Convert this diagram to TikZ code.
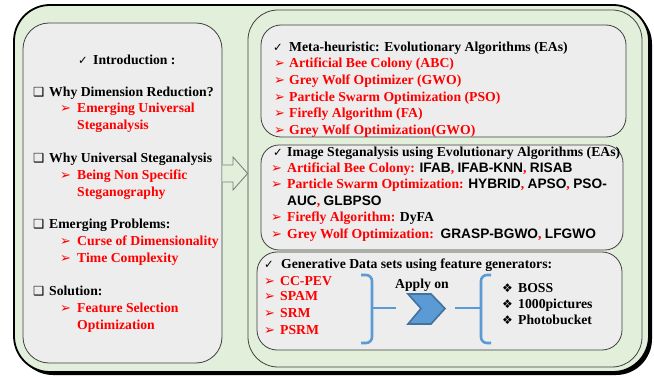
\documentclass[tikz,border=0pt]{standalone}
\usepackage{fontspec}
\setmainfont{Liberation Serif}
\newfontfamily\symf{DejaVu Sans}
\newfontfamily\sansf{Liberation Sans}
\definecolor{bggreen}{HTML}{E2EFDA}
\definecolor{boxgray}{HTML}{EDEDED}
\definecolor{edgegray}{HTML}{404040}
\definecolor{bracketblue}{HTML}{5B9BD5}
\definecolor{chevedge}{HTML}{41719C}
\definecolor{arrowgray}{HTML}{7F7F7F}
\newcommand\fs{\fontsize{13.7}{16.5}\selectfont}
\newcommand\mychk{{\symf\mdseries\fontsize{11.5}{11.5}\selectfont ✓}}
\newcommand\mysq{{\symf\mdseries\fontsize{12.5}{12.5}\selectfont ❑}}
\newcommand\myarr{{\symf\mdseries\fontsize{13}{13}\selectfont\color{red}➢}}
\newcommand\mydia{{\symf\mdseries\fontsize{12}{12}\selectfont ❖}}
\newcommand\blk[1]{{\color{black}\sansf #1}}
\tikzset{
  tx/.style={anchor=base west, inner sep=0pt, font=\fs\bfseries, text=black},
  rd/.style={tx, text=red},
  panel/.style={draw=edgegray, line width=0.8pt, fill=boxgray, inner sep=0pt},
  brace/.style={draw=bracketblue, line width=2.6pt, rounded corners=6pt},
}
\begin{document}
\begin{tikzpicture}[x=1pt,y=-1pt]
\useasboundingbox (0,0) rectangle (654,377);
% outer frame with shadow
\fill[black, rounded corners=36pt] (17,8) rectangle (652,375);
\node[draw=black, line width=1.8pt, fill=bggreen, rounded corners=36pt,
  minimum width=635pt, minimum height=367pt, inner sep=0pt] (outer) at (331.5,188.5) {};
% right container
\node[draw=edgegray, line width=0.8pt, fill=bggreen, rounded corners=30pt,
  minimum width=394pt, minimum height=357pt, inner sep=0pt] (rbox) at (445,188.5) {};
% left box
\node[panel, rounded corners=26pt, minimum width=199pt, minimum height=340pt] (lbox) at (122.5,193) {};
% arrow between
\draw[arrowgray, fill=bggreen, line width=0.9pt, line join=miter]
  (lbox.east |- 0,165) -- (233,165) -- (233,157) -- (rbox.west |- 0,173.5) -- (233,190) -- (233,182) -- (lbox.east |- 0,182);
% right panels
\node[panel, rounded corners=20pt, minimum width=365pt, minimum height=112pt] (b1) at (443.5,81) {};
\node[panel, rounded corners=18pt, minimum width=362pt, minimum height=105pt] (b2) at (442,197.5) {};
\node[panel, rounded corners=20pt, minimum width=365pt, minimum height=98pt] (b3) at (439.5,301) {};
% left texts
\node[tx] (i0) at (78,65) {\makebox[15pt][l]{\mychk}Introduction :};
\node[tx] (i1) at (33,97) {\makebox[16pt][l]{\mysq}Why Dimension Reduction?};
\node[rd] (i2) at (60,113) {\makebox[17pt][l]{\myarr}Emerging Universal};
\node[rd] (i3) at (77,130) {Steganalysis};
\node[tx] (i4) at (33,163) {\makebox[16pt][l]{\mysq}Why Universal Steganalysis};
\node[rd] (i5) at (60,180) {\makebox[17pt][l]{\myarr}Being Non Specific};
\node[rd] (i6) at (77,197) {Steganography};
\node[tx] (i7) at (33,229) {\makebox[16pt][l]{\mysq}Emerging Problems:};
\node[rd] (i8) at (60,246) {\makebox[17pt][l]{\myarr}Curse of Dimensionality};
\node[rd] (i9) at (60,262) {\makebox[17pt][l]{\myarr}Time Complexity};
\node[tx] (i10) at (33,295) {\makebox[16pt][l]{\mysq}Solution:};
\node[rd] (i11) at (60,312) {\makebox[17pt][l]{\myarr}Feature Selection};
\node[rd] (i12) at (77,329) {Optimization};
% top right texts
\node[tx] (m0) at (273,52) {\makebox[16pt][l]{\mychk}Meta-heuristic: Evolutionary Algorithms (EAs)};
\node[rd] (m1) at (274,68) {\makebox[15pt][l]{\myarr}Artificial Bee Colony (ABC)};
\node[rd] (m2) at (274,85) {\makebox[15pt][l]{\myarr}Grey Wolf Optimizer (GWO)};
\node[rd] (m3) at (274,102) {\makebox[15pt][l]{\myarr}Particle Swarm Optimization (PSO)};
\node[rd] (m4) at (274,118) {\makebox[15pt][l]{\myarr}Firefly Algorithm (FA)};
\node[rd] (m5) at (274,135) {\makebox[15pt][l]{\myarr}Grey Wolf Optimization(GWO)};
% middle texts
\node[tx] (s0) at (273,157) {\makebox[14pt][l]{\mychk}Image Steganalysis using Evolutionary Algorithms (EAs)};
\node[rd] (s1) at (271,173) {\makebox[16pt][l]{\myarr}Artificial Bee Colony: \blk{IFAB}, \blk{IFAB-KNN}, \blk{RISAB}};
\node[rd] (s2) at (271,189) {\makebox[16pt][l]{\myarr}Particle Swarm Optimization: \blk{HYBRID}, \blk{APSO}, \blk{PSO-}};
\node[tx] (s3) at (287,206) {{\sansf AUC}\textcolor{red}{,} {\sansf GLBPSO}};
\node[rd] (s4) at (271,222) {\makebox[16pt][l]{\myarr}Firefly Algorithm: {\color{black}DyFA}};
\node[rd] (s5) at (271,239) {\makebox[16pt][l]{\myarr}Grey Wolf Optimization:\ \ \blk{GRASP-BGWO}, \blk{LFGWO}};
% bottom texts
\node[tx] (g0) at (264,269) {\makebox[17pt][l]{\mychk}Generative Data sets using feature generators:};
\node[rd] (g1) at (264,285) {\makebox[16pt][l]{\myarr}CC-PEV};
\node[rd] (g2) at (264,301) {\makebox[16pt][l]{\myarr}SPAM};
\node[rd] (g3) at (264,317) {\makebox[16pt][l]{\myarr}SRM};
\node[rd] (g4) at (264,334) {\makebox[16pt][l]{\myarr}PSRM};
\node[tx, anchor=base] (ap) at (422,288) {Apply on};
\node[tx] (d1) at (502,292) {\makebox[16pt][l]{\mydia}BOSS};
\node[tx] (d2) at (502,308) {\makebox[16pt][l]{\mydia}1000pictures};
\node[tx] (d3) at (502,324) {\makebox[16pt][l]{\mydia}Photobucket};
% braces
\draw[brace] (361,275) -- (372,275) -- (372,343) -- (361,343);
\draw[draw=bracketblue, line width=2.6pt] (372,308) -- (396,308);
\draw[brace] (491,275) -- (481,275) -- (481,343) -- (491,343);
\draw[draw=bracketblue, line width=2.6pt] (455,308) -- (481,308);
% chevron
\filldraw[fill=bracketblue, draw=chevedge, line width=1.6pt, line join=miter]
  (408,294) -- (431,294) -- (445,308.5) -- (431,324) -- (408,324) -- (421,308.5) -- cycle;
\end{tikzpicture}
\end{document}
